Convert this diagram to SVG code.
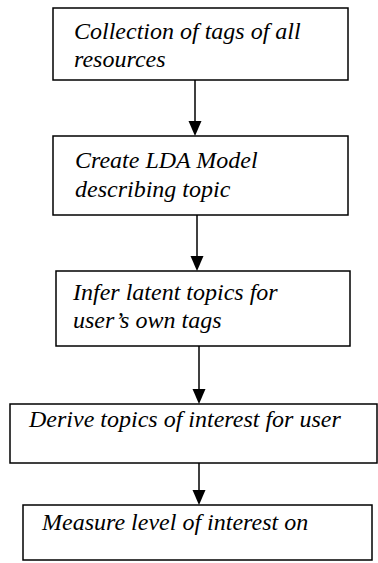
<svg xmlns="http://www.w3.org/2000/svg" width="378" height="563" viewBox="0 0 378 563">
<defs>
<clipPath id="clip3"><rect x="56" y="271" width="294" height="64"/></clipPath>
</defs>
<rect width="378" height="563" fill="#fff"/>
<g id="connectors" stroke="#000" stroke-width="1.5" fill="#000">
<line x1="195" y1="80" x2="195" y2="124"/>
<polygon stroke="none" points="188.5,121 201.5,121 195,136"/>
<line x1="197" y1="215" x2="197" y2="259"/>
<polygon stroke="none" points="190.5,256 203.5,256 197,271"/>
<line x1="199" y1="346" x2="199" y2="392"/>
<polygon stroke="none" points="192.5,389 205.5,389 199,404"/>
<line x1="199" y1="463" x2="199" y2="493"/>
<polygon stroke="none" points="192.5,490 205.5,490 199,505"/>
</g>
<g id="n1">
<rect x="53" y="8" width="295" height="72" fill="#fff" stroke="#000" stroke-width="1.5"/>
<text x="74" y="39" style="font-family:'Times New Roman','Liberation Serif',serif !important;font-style:italic;font-size:24px">Collection of tags of all</text>
<text x="74" y="67" style="font-family:'Times New Roman','Liberation Serif',serif !important;font-style:italic;font-size:24px">resources</text>
</g>
<g id="n2">
<rect x="53" y="136" width="295" height="79" fill="#fff" stroke="#000" stroke-width="1.5"/>
<text x="75" y="168" style="font-family:'Times New Roman','Liberation Serif',serif !important;font-style:italic;font-size:24px">Create LDA Model</text>
<text x="75" y="197" style="font-family:'Times New Roman','Liberation Serif',serif !important;font-style:italic;font-size:24px">describing topic</text>
</g>
<g id="n3">
<rect x="56" y="271" width="294" height="75" fill="#fff" stroke="#000" stroke-width="1.5"/>
<g clip-path="url(#clip3)">
<text x="73" y="300" style="font-family:'Times New Roman','Liberation Serif',serif !important;font-style:italic;font-size:24px">Infer latent topics for</text>
<text x="73" y="328" style="font-family:'Times New Roman','Liberation Serif',serif !important;font-style:italic;font-size:24px">user’s own tags</text>
</g>
</g>
<g id="n4">
<rect x="10" y="404" width="367" height="59" fill="#fff" stroke="#000" stroke-width="1.5"/>
<text x="29" y="427" style="font-family:'Times New Roman','Liberation Serif',serif !important;font-style:italic;font-size:24px">Derive topics of interest for user</text>
</g>
<g id="n5">
<rect x="23" y="505" width="349" height="55" fill="#fff" stroke="#000" stroke-width="1.5"/>
<text x="42" y="530" style="font-family:'Times New Roman','Liberation Serif',serif !important;font-style:italic;font-size:24px">Measure level of interest on</text>
</g>
</svg>
